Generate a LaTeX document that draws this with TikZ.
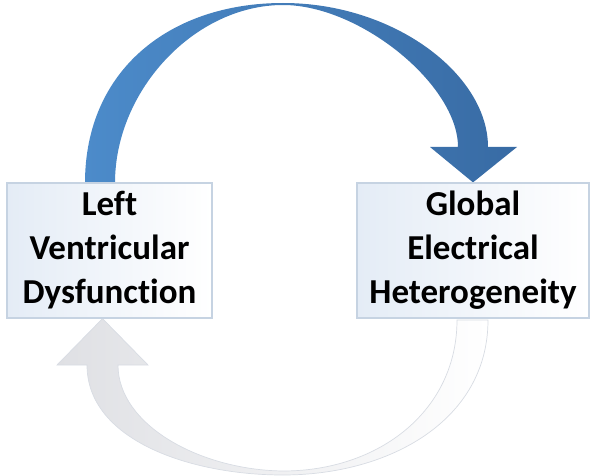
\documentclass[tikz,border=0pt]{standalone}
\usepackage{fontspec}
\setmainfont{Carlito}[Ligatures=NoCommon]
\usepackage{tikz}
\usetikzlibrary{positioning}
\usetikzlibrary{calc}
\usetikzlibrary{backgrounds}

\definecolor{boxline}{HTML}{C6D3E2}
\definecolor{boxfill}{HTML}{E4ECF6}
\definecolor{bluelight}{HTML}{4C8BCA}
\definecolor{bluedark}{HTML}{386BA4}
\definecolor{greyfill}{HTML}{DFE0E4}
\definecolor{greyline}{HTML}{D8DCE3}

\tikzset{
  statebox/.style={draw=boxline, line width=0.6pt, left color=boxfill, right color=white,
    align=center, inner sep=0pt, minimum height=67.5pt,
    font=\fontsize{17.5}{22}\selectfont\bfseries},
}

\begin{document}
\begin{tikzpicture}[x=0.5pt,y=-0.5pt]
	\useasboundingbox (0,0) rectangle (600,476);
	\node[statebox, minimum width=102.5pt] (lvd) at (109.5,250.5) {Left\\Ventricular\\Dysfunction};
	\node[statebox, minimum width=116pt] (geh) [right of=lvd, node distance=181.75pt] {Global\\Electrical\\Heterogeneity};
	\begin{scope}[on background layer]
		% upper arrow, lvd to geh
		\shade[left color=bluelight, right color=bluedark]
			(85,195) -- (85,183) .. controls (85,70) and (170,3) .. (283,3)
			.. controls (395,3) and (488,75) .. (488,147)
			-- (517,147) -- (geh.north) -- (430,147) -- (458,147)
			.. controls (458,85) and (360,5) .. (283,5)
			.. controls (195,5) and (115,90) .. (115,183) -- (115,195) -- cycle;
		% lower arrow, geh back to lvd
		\shade[left color=greyfill, middle color=greyfill!55!white, right color=white,
			draw=greyline, line width=0.35pt]
			($(lvd.south)+(-7,0)$) -- (148,365) -- (118,365)
			.. controls (118,425) and (200,470) .. (283,471)
			.. controls (380,471) and (457,410) .. (457,320) -- (488,320)
			.. controls (488,420) and (390,475) .. (283,475)
			.. controls (190,475) and (87,440) .. (87,365) -- (57,365) -- cycle;
	\end{scope}
\end{tikzpicture}
\end{document}
